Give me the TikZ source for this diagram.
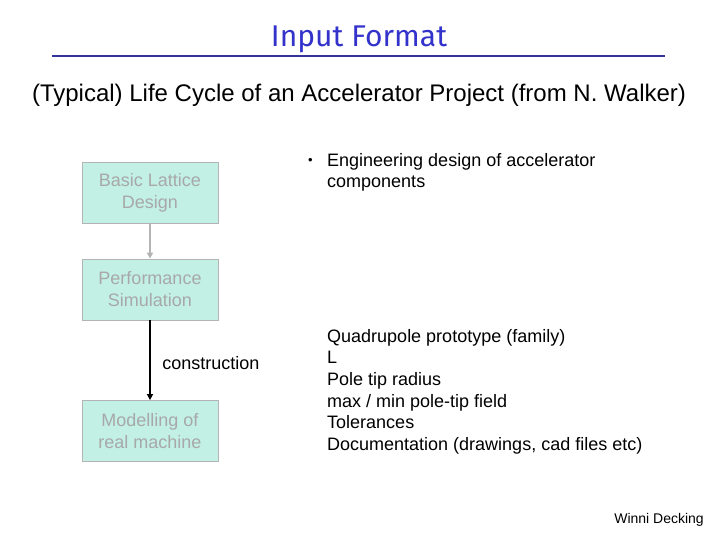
\documentclass[tikz,border=0pt]{standalone}
\usepackage{fontspec}
\setmainfont{Liberation Sans}
\newfontfamily\titlefont{Fira Sans}
\usetikzlibrary{arrows.meta,positioning}
\definecolor{titleblue}{HTML}{3333CC}
\definecolor{rulenavy}{HTML}{333399}
\definecolor{mintwash}{HTML}{C2F0E4}
\definecolor{boxedge}{HTML}{B4B4B4}
\definecolor{fadetext}{HTML}{A8A8A8}
\tikzset{
stage/.style={draw=boxedge,fill=mintwash,align=center,minimum width=136pt,minimum height=61pt,inner sep=2pt,font=\fontsize{18}{22}\selectfont,text=fadetext,line width=.8pt},
softflow/.style={-{Triangle[length=6pt,width=6pt]},line width=1.6pt,draw=boxedge},
hardflow/.style={-{Triangle[length=6pt,width=6pt]},line width=2pt,draw=black},
bodytext/.style={font=\fontsize{18}{21.6}\selectfont,align=left,anchor=north west,inner sep=0pt}}
\begin{document}
\begin{tikzpicture}[x=1pt,y=-1pt]
\useasboundingbox[fill=white] (0,0) rectangle (720,540);
\node[font=\titlefont\fontsize{30}{32}\selectfont,text=titleblue] (title) at (359,39) {Input Format};
\draw[rulenavy,line width=1.8pt] (52,56) -- (665,56);
\node[font=\fontsize{24}{28}\selectfont] (sub) at (359,95) {(Typical) Life Cycle of an Accelerator Project (from N. Walker)};
% flow of stages
\node[stage] (lattice) at (150,192.5) {Basic Lattice\\Design};
\node[stage] (perf) at (150,289.5) {Performance\\Simulation};
\node[stage] (model) at (150,431) {Modelling of\\real machine};
\draw[softflow] (lattice) -- (perf);
\draw[hardflow] (perf) -- node[right=8pt,font=\fontsize{18}{20}\selectfont,pos=.53] {construction} (model);
% engineering notes
\node[font=\fontsize{13}{15}\selectfont,anchor=base west,inner sep=0pt] (bullet) at (308,165) {\textbullet};
\node[bodytext] (eng) at (327,153) {Engineering design of accelerator\\components};
\node[bodytext] (list) at (327,329) {Quadrupole prototype (family)\\L\\Pole tip radius\\max / min pole-tip field\\Tolerances\\Documentation (drawings, cad files etc)};
\node[font=\fontsize{14}{16}\selectfont,anchor=east,inner sep=0pt] (author) at (704,520) {Winni Decking};
\end{tikzpicture}
\end{document}
